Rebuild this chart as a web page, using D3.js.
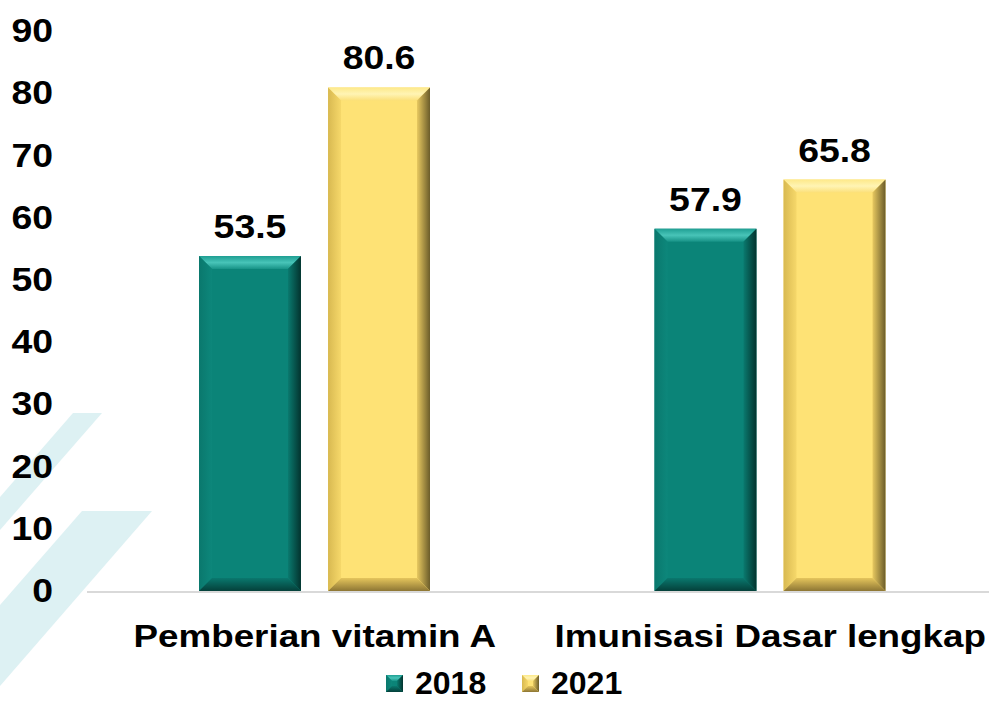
<!DOCTYPE html>
<html>
  <head>
    <meta charset="utf-8">
    <title>Vitamin A dan Imunisasi</title>
    <style>
      body {margin:0; background:#ffffff;}
      svg {display:block;}
      text {font-family:"Liberation Sans", Arial, sans-serif; font-weight:bold; fill:#000;}
    </style>
    <script src="https://cdn.jsdelivr.net/npm/d3@7"></script>
  </head>
  <body>
    <svg id="chart" width="989" height="701"></svg>
    <script>
      var categories = ["Pemberian vitamin A", "Imunisasi Dasar lengkap"];
      var series     = ["2018", "2021"];
      var values2018 = [53.5, 57.9];
      var values2021 = [80.6, 65.8];
      var yTicks     = [0, 10, 20, 30, 40, 50, 60, 70, 80, 90];

      var svgWidth  = 989;
      var svgHeight = 701;
      var stretch   = 1.1;   // text in the picture is a bit wide

      // colours per series: face, top, left, right, bottom
      var skins = {
        "2018": {face:"#0b8478", top:["#1f9f93","#48c4b8","#179286"], left:["#0a786d","#0d877b"],
                 right:["#0a7a6f","#03332e"], bottom:["#0a786e","#04403a"]},
        "2021": {face:"#fee275", top:["#fde98a","#fff4b4","#fbe07a"], left:["#d8b951","#f6d86a"],
                 right:["#e8c960","#6b5c2a"], bottom:["#e5c55c","#8d7634"]}
      };

      var rows = categories.map(function(c, i) {
        return {cat:c, vals:[{s:"2018", v:values2018[i]}, {s:"2021", v:values2021[i]}]};
      });

      var svg = d3.select("#chart");
      var defs = svg.append("defs");

      // gradients
      series.forEach(function(s) {
        var k = skins[s];
        function grad(id, stops, x2, y2) {
          var g = defs.append("linearGradient").attr("id", id)
                      .attr("x1", 0).attr("y1", 0).attr("x2", x2).attr("y2", y2);
          stops.forEach(function(c, j) {
            g.append("stop").attr("offset", j / (stops.length - 1)).attr("stop-color", c);
          });
        }
        grad("top" + s, k.top, 0, 1);
        grad("left" + s, k.left, 1, 0);
        grad("right" + s, k.right, 1, 0);
        grad("bottom" + s, k.bottom, 0, 1);
      });

      // background stripes
      svg.append("g").selectAll("polygon")
         .data([[[73,413],[102,413],[0,530],[0,497]], [[82,511],[152,511],[0,686],[0,605]]])
         .enter().append("polygon")
         .attr("points", function(d) {return d.join(" ");})
         .style("fill", "#ddf1f3");

      var y = d3.scaleLinear().domain([0, 90]).range([589, 29]);
      var x0 = d3.scaleBand().domain(categories).range([87, 998]);
      var x1 = d3.scaleBand().domain(series).range([112, 343]).paddingInner(0.21);

      // y axis labels
      var yAxis = svg.append("g")
                     .attr("transform", "translate(53,0)")
                     .call(d3.axisLeft(y).tickValues(yTicks).tickSize(0).tickPadding(0));
      yAxis.select(".domain").remove();
      yAxis.selectAll("text")
           .attr("x", 0)
           .attr("dy", "0.37em")
           .attr("transform", "scale(" + stretch + ",1)")
           .style("font-size", "34px")
           .style("font-family", "'Liberation Sans', Arial, sans-serif")
           .style("font-weight", "bold")
           .style("fill", "#000");

      // baseline
      svg.append("line")
         .attr("x1", 87).attr("x2", svgWidth)
         .attr("y1", y(0) + 3).attr("y2", y(0) + 3)
         .style("stroke", "#d9d9d9").style("stroke-width", 2);

      function bevel(g, x, top, w, h, b, s) {
        var k = skins[s];
        g.append("rect").attr("x", x).attr("y", top).attr("width", w).attr("height", h)
         .style("fill", k.face);
        var pts = {
          top:    [[x,top],[x+w,top],[x+w-b,top+b],[x+b,top+b]],
          left:   [[x,top],[x+b,top+b],[x+b,top+h-b],[x,top+h]],
          right:  [[x+w,top],[x+w,top+h],[x+w-b,top+h-b],[x+w-b,top+b]],
          bottom: [[x,top+h],[x+b,top+h-b],[x+w-b,top+h-b],[x+w,top+h]]
        };
        ["top","left","right","bottom"].forEach(function(side) {
          g.append("polygon").attr("points", pts[side].join(" "))
           .style("fill", "url(#" + side + s + ")");
        });
      }

      var groups = svg.selectAll(".cat")
                      .data(rows)
                      .enter().append("g")
                      .attr("class", "cat")
                      .attr("transform", function(d) {return "translate(" + x0(d.cat) + ",0)";});

      groups.each(function(d) {
        var g = d3.select(this);
        d.vals.forEach(function(e) {
          var top = y(e.v);
          bevel(g.append("g"), x1(e.s), top, x1.bandwidth(), y(0) + 2 - top, 13, e.s);
          g.append("text")
           .attr("transform", "translate(" + (x1(e.s) + x1.bandwidth() / 2) + "," + (top - 18) + ") scale(" + stretch + ",1)")
           .attr("text-anchor", "middle")
           .style("font-size", "34px")
           .text(e.v.toFixed(1));
        });
      });

      // category labels
      svg.selectAll(".catname")
         .data(categories)
         .enter().append("text")
         .attr("class", "catname")
         .attr("transform", function(d) {return "translate(" + (x0(d) + x0.bandwidth() / 2) + ",647) scale(1.15,1)";})
         .attr("text-anchor", "middle")
         .style("font-size", "32px")
         .text(function(d) {return d;});

      // legend
      var legX = [386, 522];
      var leg = svg.selectAll(".leg")
                   .data(series)
                   .enter().append("g")
                   .attr("class", "leg")
                   .attr("transform", function(d, i) {return "translate(" + legX[i] + ",675)";});
      leg.each(function(s) {
        bevel(d3.select(this).append("g"), 0, 0, 17, 17, 6, s);
      });
      leg.append("text")
         .attr("x", 29)
         .attr("y", 19)
         .style("font-size", "32px")
         .text(function(d) {return d;});
    </script>
  </body>
</html>
